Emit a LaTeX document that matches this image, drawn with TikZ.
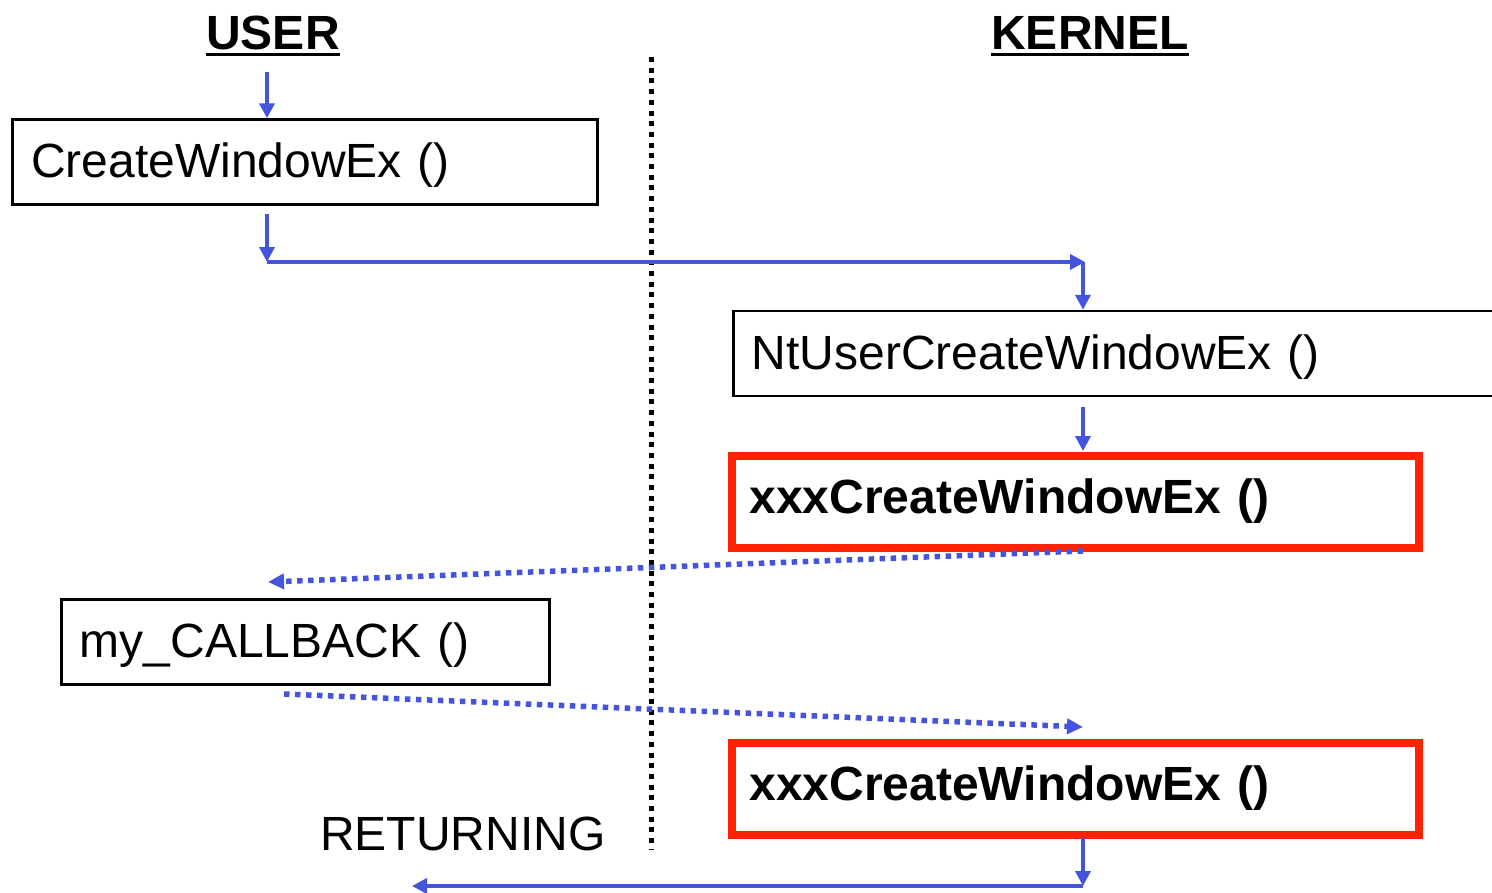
\documentclass[tikz,border=0pt]{standalone}
\usepackage{fontspec}
\setmainfont{Liberation Sans}
\usetikzlibrary{arrows.meta}
\definecolor{blu}{RGB}{68,84,220}
\definecolor{rd}{RGB}{255,34,0}
\tikzset{
  txt/.style={font=\fontsize{48}{56}\selectfont},
  btxt/.style={font=\fontsize{48}{56}\selectfont\bfseries},
  fbox/.style={draw=black, line width=2.5pt, minimum height=85pt, align=left, anchor=west, inner ysep=0pt, text height=39pt, text depth=8pt, txt},
  rbox/.style={draw=rd, line width=8pt, minimum height=92pt, minimum width=687pt, inner xsep=18pt, text width=651pt, align=left, inner ysep=0pt, btxt},
  arr/.style={draw=blu, line width=4pt, -{Triangle[length=15pt,width=15pt]}},
  darr/.style={draw=blu, line width=5.5pt, dash pattern=on 5.5pt off 5.5pt, -{Triangle[length=16pt,width=15pt]}},
  sep/.style={draw=black, line width=5pt, dash pattern=on 5pt off 5.7pt},
  ttl/.style={btxt, inner sep=0pt, anchor=base},
}
\begin{document}
\begin{tikzpicture}[x=1pt,y=-1pt]
\useasboundingbox (0,0) rectangle (1492,892);
\clip (0,0) rectangle (1492,892);
% titles
\node[ttl] (user) at (273,49) {USER};
\node[ttl] (kern) at (1090,49) {KERNEL};
\draw[line width=3pt] ([yshift=-5pt]user.base west) -- ([yshift=-5pt]user.base east);
\draw[line width=3pt] ([yshift=-5pt]kern.base west) -- ([yshift=-5pt]kern.base east);
% separator
\coordinate (s1) at (651,57);
\coordinate (s2) at (651,850);
\draw[sep] (s1) -- (s2);
% boxes
\node[fbox, minimum width=585pt, text width=548pt, inner xsep=18.5pt] (b1) at (11.3,162) {CreateWindowEx ()};
\node[fbox, minimum width=770pt, text width=733pt, inner xsep=18.5pt] (b2) at (732,353.5) {NtUserCreateWindowEx ()};
\node[rbox, anchor=center] (b3) at (1075,501.5) {xxxCreateWindowEx ()};
\node[fbox, minimum width=488pt, text width=451pt, inner xsep=18.5pt] (b4) at (60,642) {my\_CALLBACK ()};
\node[rbox, anchor=center] (b5) at (1075,788.5) {xxxCreateWindowEx ()};
\node[txt, inner sep=0pt, anchor=base west] (ret) at (320,850) {RETURNING};
% connectors
\coordinate (t0) at (267,72);
\draw[arr] (t0) -- (t0 |- b1.north);
\coordinate (c1) at (267,214);
\coordinate (j1) at (267,262);
\coordinate (j2) at (1083,262);
\draw[arr] (c1) -- (j1);
\draw[arr, shorten >=-2pt] (j1) -- (j2);
\draw[arr] (j2) -- (j2 |- b2.north);
\coordinate (c2) at (1083,407);
\draw[arr] (c2) -- (1083,451);
\coordinate (d1) at (1083,551);
\coordinate (d2) at (268,582);
\draw[darr] (d1) -- (d2);
\coordinate (d3) at (284,694);
\coordinate (d4) at (1083,727);
\draw[darr] (d3) -- (d4);
\coordinate (e1) at (1083,838);
\coordinate (e2) at (1083,886);
\coordinate (e3) at (412,886);
\draw[arr] (e1) -- (e2);
\draw[arr] (e2) -- (e3);
\end{tikzpicture}
\end{document}
